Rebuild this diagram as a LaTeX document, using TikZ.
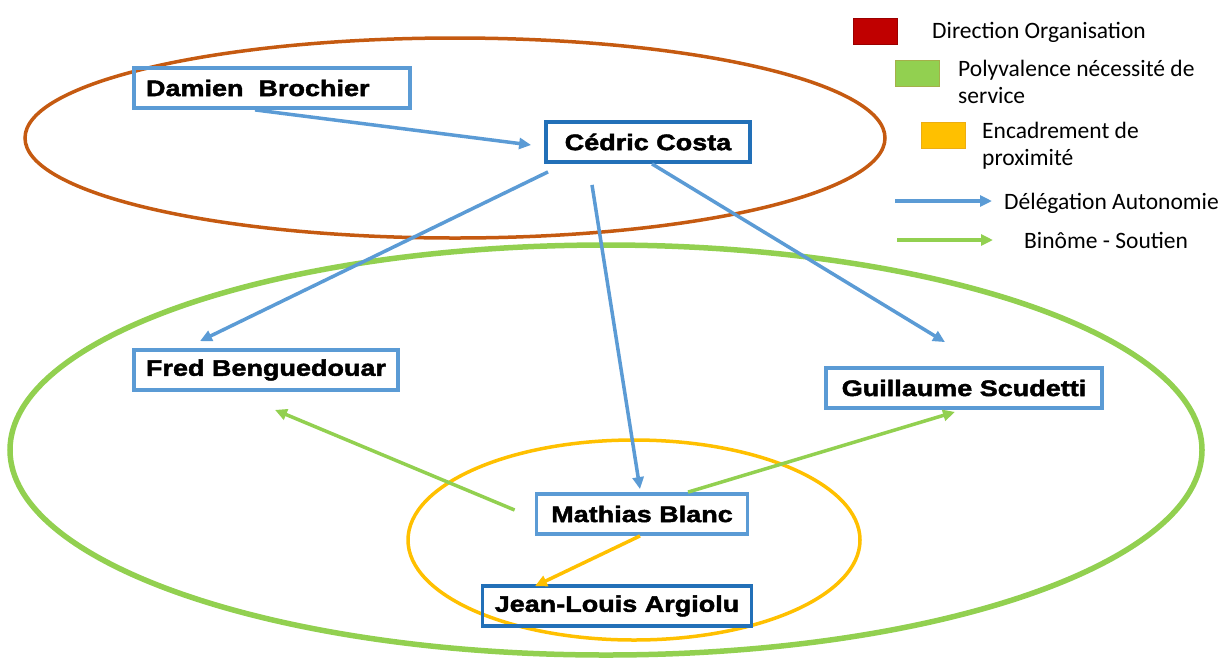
\documentclass[tikz,border=0pt]{standalone}
\usepackage{fontspec}
\setmainfont{Carlito}
\newfontfamily\namefont{Liberation Sans}[FakeStretch=1.2,FakeBold=2]
\usetikzlibrary{arrows.meta}

\definecolor{orgblue}{HTML}{5B9BD5}
\definecolor{orgbluedark}{HTML}{2270B8}
\definecolor{orgbrown}{HTML}{C55A11}
\definecolor{orggreen}{HTML}{92D050}
\definecolor{orgyellow}{HTML}{FFC000}
\definecolor{orgred}{HTML}{C00000}

\begin{document}
\begin{tikzpicture}[x=1pt,y=-1pt,
	namebox/.style={draw=orgblue, line width=3.8pt, inner xsep=12pt, minimum height=40pt,
		font=\namefont\bfseries\fontsize{22.5}{26}\selectfont},
	keybox/.style={draw, line width=1pt, minimum width=44pt, minimum height=26pt, inner sep=0pt},
	keytext/.style={inner sep=0pt, align=left, font=\fontsize{23.5}{27}\selectfont},
	deleg/.style={draw=orgblue, line width=3.5pt, -{Triangle[length=12pt,width=11pt]}},
	binome/.style={draw=orggreen, line width=3.5pt, -{Triangle[length=12pt,width=11pt]}},
	proxi/.style={draw=orgyellow, line width=3.5pt, -{Triangle[length=12pt,width=11pt]}}]
	\useasboundingbox (0,0) rectangle (1228,657);
	% groups
	\draw[orgbrown, line width=3.5pt] (455,138) ellipse [x radius=430, y radius=100];
	\draw[orggreen, line width=5.5pt] (606,450) ellipse [x radius=596, y radius=205];
	\draw[orgyellow, line width=3.5pt] (634,540) ellipse [x radius=226, y radius=100];
	% people
	\node[namebox, text width=252pt, align=left] (damien) at (272,88) {Damien~~Brochier};
	\node[namebox, draw=orgbluedark, minimum width=204pt] (cedric) at (648,142) {Cédric Costa};
	\node[namebox, minimum width=264pt] (fred) at (266,370) {Fred Benguedouar};
	\node[namebox, minimum width=276pt] (guillaume) at (964,388) {Guillaume Scudetti};
	\node[namebox, minimum width=211pt] (mathias) at (642,514) {Mathias Blanc};
	\node[namebox, draw=orgbluedark, minimum width=269pt] (jeanlouis) at (617,606) {Jean-Louis Argiolu};
	% links
	\draw[deleg] ([xshift=-17pt]damien.south) -- ([xshift=-13pt,yshift=-3pt]cedric.west);
	\draw[deleg] ([xshift=-100pt,yshift=-8pt]cedric.south) -- ([xshift=-66pt,yshift=7pt]fred.north);
	\draw[deleg] ([xshift=-56pt,yshift=-21pt]cedric.south) -- ([xshift=-2pt,yshift=3pt]mathias.north);
	\draw[deleg] ([xshift=4pt]cedric.south) -- ([xshift=-19pt,yshift=24pt]guillaume.north);
	\draw[binome] ([xshift=-20pt,yshift=4pt]mathias.west) -- ([xshift=9pt,yshift=-18pt]fred.south);
	\draw[binome] ([xshift=46pt]mathias.north) -- ([xshift=-9pt,yshift=-2pt]guillaume.south);
	\draw[proxi] ([xshift=-2pt]mathias.south) -- ([xshift=-82pt,yshift=-2pt]jeanlouis.north);
	% legend
	\node[keybox, draw=orgred!80!black, fill=orgred] (keyred) at (875,31) {};
	\node[keytext, anchor=base west] (keyredtext) at (932,38) {Direction Organisation};
	\node[keybox, draw=orggreen!60!brown, fill=orggreen] (keygreen) at (917,73) {};
	\node[keytext, anchor=base west] (keygreentext) at (958,103) {Polyvalence nécessité de\\service};
	\node[keybox, draw=orgyellow!70!brown, fill=orgyellow] (keyyellow) at (943,135) {};
	\node[keytext, anchor=base west] (keyyellowtext) at (982,165) {Encadrement de\\proximité};
	\coordinate (keyblueA) at (895,201);
	\coordinate (keyblueB) at (992,201);
	\draw[deleg] (keyblueA) -- (keyblueB);
	\node[keytext, anchor=base west] (keybluetext) at (1004,209) {Délégation Autonomie};
	\coordinate (keygreenA) at (897,240);
	\coordinate (keygreenB) at (993,240);
	\draw[binome] (keygreenA) -- (keygreenB);
	\node[keytext, anchor=base west] (keybinometext) at (1024,248) {Binôme - Soutien};
\end{tikzpicture}
\end{document}
